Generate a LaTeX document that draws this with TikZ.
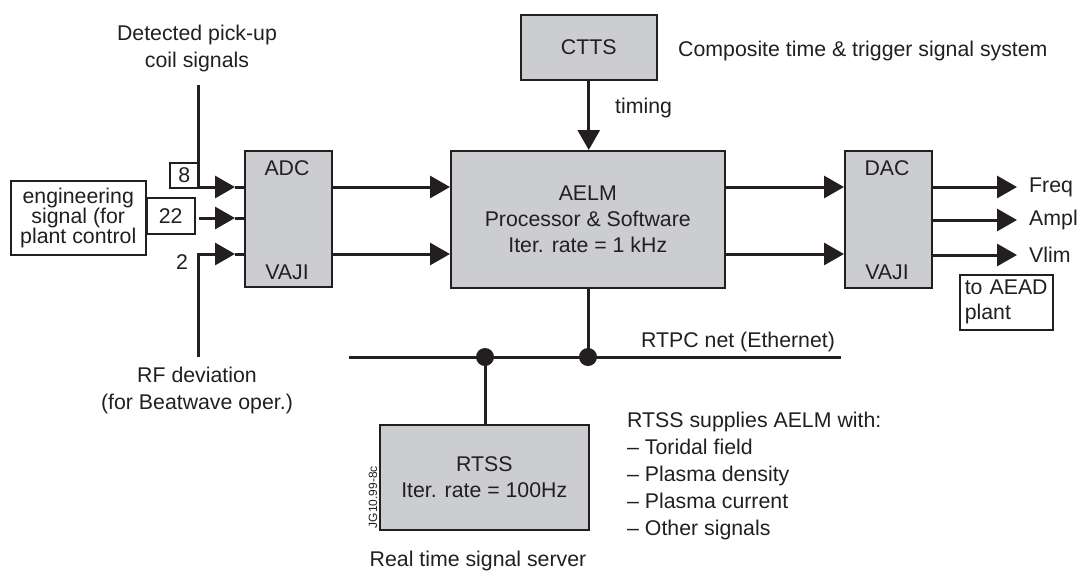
\documentclass[tikz,border=0pt]{standalone}
\usepackage{fontspec}
\setmainfont{Liberation Sans}
\usetikzlibrary{arrows.meta}
\definecolor{boxgray}{RGB}{204,205,208}
\definecolor{ink}{RGB}{35,31,32}
\begin{document}
\begin{tikzpicture}[x=1pt,y=-1pt,
  every node/.style={font=\fontsize{21.3}{27}\selectfont, text=ink, inner sep=0pt},
  block/.style={draw=ink, line width=1.5pt, fill=boxgray, anchor=north west},
  lbox/.style={draw=ink, line width=1.5pt, fill=white, anchor=north west},
  sig/.style={draw=ink, line width=3pt},
  tip/.style={-{Triangle[length=20pt,width=22pt]}},
]
\useasboundingbox (0,0) rectangle (1083,574);

% boxes
\node[block, minimum width=136pt, minimum height=65pt] (ctts) at (520,14) {CTTS};
\node[block, minimum width=274pt, minimum height=137pt, align=center, font=\fontsize{21.3}{26}\selectfont] (aelm) at (450,150) {AELM\\Processor \& Software\\Iter. rate = 1 kHz};
\node[block, minimum width=87pt, minimum height=136pt] (adc) at (244,150) {};
\node (adcl) at (287,168) {ADC};
\node (adcv) at (287,272) {VAJI};
\node[block, minimum width=87pt, minimum height=137pt] (dac) at (844,150) {};
\node (dacl) at (887,168) {DAC};
\node (dacv) at (887,272) {VAJI};
\node[block, minimum width=209pt, minimum height=105pt, align=center, font=\fontsize{21.3}{26}\selectfont] (rtss) at (379,424) {RTSS\\Iter. rate = 100Hz};

\node[lbox, minimum width=135pt, minimum height=74pt, align=center, font=\fontsize{21.3}{20}\selectfont] (eng) at (10,180) {engineering\\signal (for\\plant control};
\node[lbox, minimum width=48pt, minimum height=36pt] (b22) at (146,197) {22};
\node[lbox, minimum width=29pt, minimum height=25pt] (b8) at (169,162) {8};
\node[lbox, minimum width=93pt, minimum height=55pt, text width=83pt, align=left, font=\fontsize{21.3}{25}\selectfont] (aead) at (959,274) {to AEAD\\plant};

% texts
\node[align=center] (det) at (197,48) {Detected pick-up\\coil signals};
\node[align=center] (rf) at (197,390) {RF deviation\\(for Beatwave oper.)};
\node (two) at (182,262) {2};
\node[anchor=west] (timing) at (615,108) {timing};
\node[anchor=west] (comp) at (678,51) {Composite time \& trigger signal system};
\node[anchor=west] (rtpc) at (641,342) {RTPC net (Ethernet)};
\node[anchor=west, align=left] (supp) at (627,476) {RTSS supplies AELM with:\\\textendash{} Toridal field\\\textendash{} Plasma density\\\textendash{} Plasma current\\\textendash{} Other signals};
\node[rotate=90, font=\fontsize{12}{14}\selectfont] (jg) at (373,497) {JG10.99-8c};
\node (rts) at (478,561) {Real time signal server};
\node[anchor=west] (freq) at (1029,187) {Freq};
\node[anchor=west] (ampl) at (1029,220) {Ampl};
\node[anchor=west] (vlim) at (1029,255) {Vlim};

% coordinates
\coordinate (p8) at (198,85);
\coordinate (p22) at (199,218);
\coordinate (prf) at (198,357);
\coordinate (in1) at (244,187);
\coordinate (in2) at (244,218);
\coordinate (in3) at (244,254);
\coordinate (in1t) at (235,187);
\coordinate (in2t) at (235,218);
\coordinate (in3t) at (235,254);
\coordinate (o1) at (1017,187);
\coordinate (o2) at (1017,220);
\coordinate (o3) at (1017,255);
\coordinate (nl) at (349,357);
\coordinate (nr) at (841,357);
\coordinate (j1) at (485,357);
\coordinate (j2) at (588,357);

% inputs
\draw[sig,tip] (p8) |- (in1t);
\draw[sig] (in1t) -- (in1);
\draw[sig,tip] (p22) -- (in2t);
\draw[sig] (in2t) -- (in2);
\draw[sig,tip] (prf) |- (in3t);
\draw[sig] (in3t) -- (in3);

% main flow
\draw[sig,tip] (adc.east|-in1) -- (aelm.west|-in1);
\draw[sig,tip] (adc.east|-in3) -- (aelm.west|-in3);
\draw[sig,tip] (aelm.east|-in1) -- (dac.west|-in1);
\draw[sig,tip] (aelm.east|-in3) -- (dac.west|-in3);
\draw[sig,tip] (dac.east|-o1) -- (o1);
\draw[sig,tip] (dac.east|-o2) -- (o2);
\draw[sig,tip] (dac.east|-o3) -- (o3);
\draw[sig,tip] (ctts.south) -- (ctts.south|-aelm.north);

% network
\draw[sig] (nl) -- (nr);
\draw[sig] (j2|-aelm.south) -- (j2);
\draw[sig] (j1) -- (j1|-rtss.north);
\fill[ink] (j1) circle (9);
\fill[ink] (j2) circle (9);
\end{tikzpicture}
\end{document}
